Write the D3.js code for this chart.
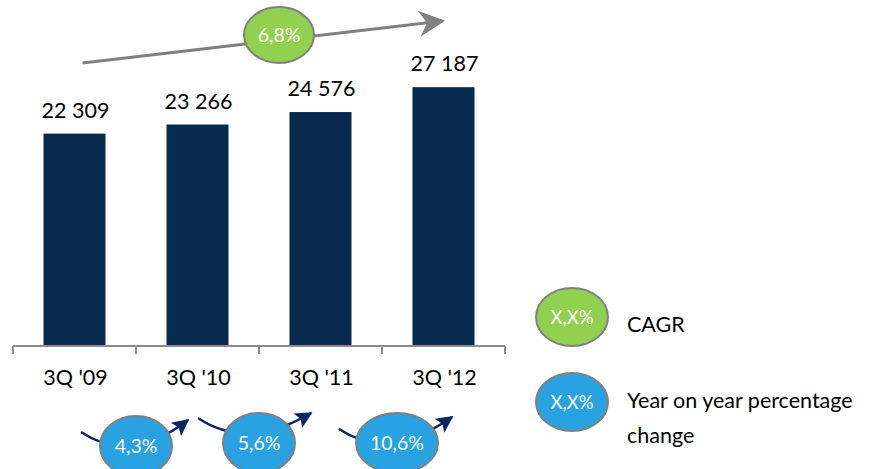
<!DOCTYPE html>
<html>
<head>
<meta charset="utf-8">
<script src="https://cdn.jsdelivr.net/npm/d3@7"></script>
<style>
  body { margin: 0; background: #fff; }
  svg { display: block; font-family: Lato, "Open Sans", sans-serif; }
</style>
</head>
<body>
<div id="app"></div>
<script>
const categories = ["3Q '09", "3Q '10", "3Q '11", "3Q '12"];
const values = [22309, 23266, 24576, 27187];
const yoyLabels = ["4,3%", "5,6%", "10,6%"];
const cagrLabel = "6,8%";
const legendItems = ["CAGR", "Year on year percentage change"];

const w = 870;
const h = 469;

const NAVY = "#082a4f";
const GREEN = "#92d050";
const BLUE = "#29a2e1";
const GREY = "#808080";
const ARROW = "#0b2463";

const fmt = v => d3.format(",")(v).replace(/,/g, " ");

const svg = d3.select('#app').append('svg')
  .attr('width', w)
  .attr('height', h);

const defs = svg.append('defs');

defs.append('marker')
  .attr('id', 'greyHead')
  .attr('viewBox', '0 0 10 10')
  .attr('refX', 9).attr('refY', 5)
  .attr('markerUnits', 'userSpaceOnUse')
  .attr('markerWidth', 27).attr('markerHeight', 26)
  .attr('orient', 'auto')
  .append('path')
  .attr('d', 'M0,0 L10,5 L0,10 L3,5 Z')
  .attr('fill', GREY);

defs.append('marker')
  .attr('id', 'navyHead')
  .attr('viewBox', '0 0 10 10')
  .attr('refX', 9).attr('refY', 5)
  .attr('markerUnits', 'userSpaceOnUse')
  .attr('markerWidth', 19).attr('markerHeight', 17)
  .attr('orient', 'auto')
  .append('path')
  .attr('d', 'M0,0 L10,5 L0,10 L2,5 Z')
  .attr('fill', ARROW);

//////////SCALES//////////

const x = d3.scaleBand()
  .domain(categories)
  .range([13, 505])
  .paddingInner(0.496)
  .paddingOuter(0.248);

const y = d3.scaleLinear()
  .domain([0, 30000])
  .range([346, 60.4]);

const step = x.step();
const left = x.range()[0];
const bounds = d3.range(categories.length + 1).map(i => left + i * step);

//////////BARS//////////

svg.selectAll('rect.bar')
  .data(values)
  .join('rect')
  .attr('class', 'bar')
  .attr('x', (d, i) => x(categories[i]))
  .attr('y', d => y(d))
  .attr('width', x.bandwidth())
  .attr('height', d => y(0) - y(d))
  .attr('fill', NAVY);

svg.selectAll('text.val')
  .data(values)
  .join('text')
  .attr('class', 'val')
  .attr('x', (d, i) => x(categories[i]) + x.bandwidth() / 2 + 1)
  .attr('y', d => y(d) - 16)
  .attr('text-anchor', 'middle')
  .attr('font-size', 21.5)
  .attr('fill', '#000')
  .text(d => fmt(d));

//////////AXIS//////////

svg.append('line')
  .attr('x1', bounds[0]).attr('x2', bounds[bounds.length - 1])
  .attr('y1', y(0)).attr('y2', y(0))
  .attr('stroke', '#8c8c8c')
  .attr('stroke-width', 2);

svg.selectAll('line.tick')
  .data(bounds)
  .join('line')
  .attr('class', 'tick')
  .attr('x1', d => d).attr('x2', d => d)
  .attr('y1', y(0)).attr('y2', y(0) + 8)
  .attr('stroke', '#8c8c8c')
  .attr('stroke-width', 2);

svg.selectAll('text.cat')
  .data(categories)
  .join('text')
  .attr('class', 'cat')
  .attr('x', d => x(d) + x.bandwidth() / 2 + 1)
  .attr('y', y(0) + 39)
  .attr('text-anchor', 'middle')
  .attr('font-size', 21.5)
  .attr('fill', '#000')
  .text(d => d);

//////////CAGR ARROW//////////

const cx0 = x(categories[0]) + x.bandwidth() / 2 + 8;
const cx1 = x(categories[categories.length - 1]) + x.bandwidth() / 2 - 1;

svg.append('line')
  .attr('x1', cx0).attr('y1', 63)
  .attr('x2', cx1).attr('y2', 21)
  .attr('stroke', GREY)
  .attr('stroke-width', 3)
  .attr('marker-end', 'url(#greyHead)');

svg.append('ellipse')
  .attr('cx', 279).attr('cy', 35)
  .attr('rx', 35).attr('ry', 28)
  .attr('fill', GREEN)
  .attr('stroke', GREY)
  .attr('stroke-width', 2);

svg.append('text')
  .attr('x', 279).attr('y', 42)
  .attr('text-anchor', 'middle')
  .attr('font-size', 19.5)
  .attr('fill', '#fff')
  .text(cagrLabel);

//////////YEAR ON YEAR//////////

const yoyShift = [0, 0, 15];
const yoyRx = [36, 36, 41];
const yoyCy = [446, 443, 443];

const yoy = svg.selectAll('g.yoy')
  .data(yoyLabels)
  .join('g')
  .attr('class', 'yoy')
  .attr('transform', (d, i) => `translate(${bounds[i + 1] + yoyShift[i]},${yoyCy[i]})`);

yoy.append('path')
  .attr('d', (d, i) => {
    const sx = -55 - (i === 2 ? 3 : 0) + (i === 1 ? -6 : 0);
    const sy = i === 1 ? -25 : -14;
    const tx = 52 + (i === 2 ? 3 : 0);
    const ty = i === 1 ? -30 : -26;
    return `M${sx},${sy} Q${sx + 49},${sy + 33} ${tx},${ty}`;
  })
  .attr('fill', 'none')
  .attr('stroke', ARROW)
  .attr('stroke-width', 2.5)
  .attr('marker-end', 'url(#navyHead)');

yoy.append('ellipse')
  .attr('rx', (d, i) => yoyRx[i]).attr('ry', 30)
  .attr('fill', BLUE)
  .attr('stroke', GREY)
  .attr('stroke-width', 2);

yoy.append('text')
  .attr('y', 7)
  .attr('text-anchor', 'middle')
  .attr('font-size', 19.5)
  .attr('fill', '#fff')
  .text(d => d);

//////////LEGEND//////////

const legend = svg.selectAll('g.legend')
  .data(legendItems)
  .join('g')
  .attr('class', 'legend')
  .attr('transform', (d, i) => `translate(572,${317 + i * 85})`);

legend.append('ellipse')
  .attr('rx', 36).attr('ry', 29)
  .attr('fill', (d, i) => i === 0 ? GREEN : BLUE)
  .attr('stroke', GREY)
  .attr('stroke-width', 2);

legend.append('text')
  .attr('y', 7)
  .attr('text-anchor', 'middle')
  .attr('font-size', 18.5)
  .attr('fill', '#fff')
  .text('X,X%');

legend.append('text')
  .attr('x', 55)
  .attr('font-size', 21.5)
  .attr('fill', '#000')
  .selectAll('tspan')
  .data(d => d === legendItems[1] ? ["Year on year percentage", "change"] : [d])
  .join('tspan')
  .attr('x', 55)
  .attr('y', (d, i, n) => n.length > 1 ? 6 + i * 35 : 15)
  .text(d => d);
</script>
</body>
</html>
